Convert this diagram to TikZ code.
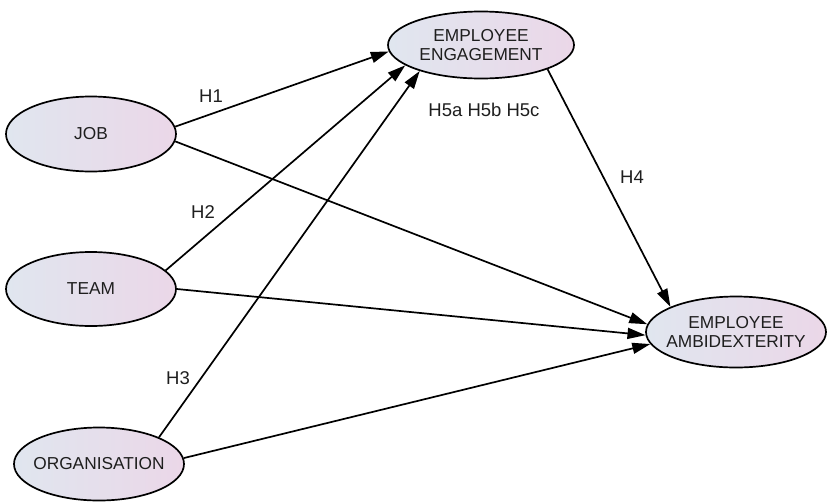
\documentclass[tikz,border=0pt]{standalone}
\usepackage{fontspec}
\setmainfont{Liberation Sans}
\usetikzlibrary{shapes.geometric,arrows.meta}
\definecolor{txt}{HTML}{1E1E1E}
\definecolor{lc}{HTML}{E0E6EF}
\definecolor{rc}{HTML}{EBD7E8}
\begin{document}
\begin{tikzpicture}[x=1pt,y=-1pt,
  construct/.style={ellipse, draw=black, line width=1.7pt, left color=lc, right color=rc,
    minimum width=#1, inner sep=0pt},
  construct/.default=170pt,
  ctext/.style={align=center, text=txt, inner sep=0pt,
    font=\fontsize{17.3}{19}\selectfont},
  path/.style={line width=1.7pt, -{Triangle[length=18pt,width=11pt]}},
  hlabel/.style={text=txt, font=\fontsize{18.5}{20}\selectfont, inner sep=0pt}]
\useasboundingbox (0,0) rectangle (827,501);
\node[construct, minimum height=75pt, label={[ctext]center:JOB}] (job) at (91,134) {};
\node[construct, minimum height=74pt, label={[ctext]center:TEAM}] (team) at (91,289) {};
\node[construct, minimum height=73pt, label={[ctext]center:ORGANISATION}] (org) at (99,464) {};
\node[construct=186pt, minimum height=67pt, label={[ctext]center:EMPLOYEE\\ENGAGEMENT}] (ee) at (481,45) {};
\node[construct=180pt, minimum height=71pt, label={[ctext]center:EMPLOYEE\\AMBIDEXTERITY}] (ea) at (736,332) {};
\draw[path] (job.5) -- (ee.184);
\draw[path] (team.14) -- (ee.195);
\draw[path] (org.24) -- (ee.203);
\draw[path] (job.-5) -- (ea.175.5);
\draw[path] (team.0) -- (ea.182);
\draw[path] (org.4) -- (ea.188);
\draw[path] (ee.-20.5) -- (ea.159);
\node[hlabel] (h1) at (211,96) {H1};
\node[hlabel] (h2) at (203,212) {H2};
\node[hlabel] (h3) at (178,378) {H3};
\node[hlabel] (h4) at (632,177) {H4};
\node[hlabel] (h5) at (484,110) {H5a H5b H5c};
\end{tikzpicture}
\end{document}
